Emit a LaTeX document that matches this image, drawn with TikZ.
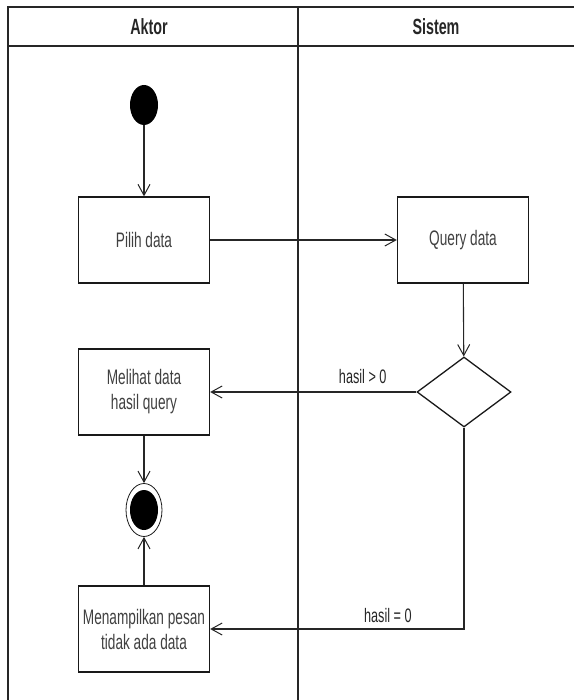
\documentclass[tikz,border=0pt]{standalone}
\usepackage{fontspec}
\setmainfont{Liberation Sans}[FakeStretch=0.65]
\usetikzlibrary{arrows.meta,shapes.geometric}
\begin{document}
\begin{tikzpicture}[x=1pt,y=-1pt,
  lane/.style={draw=black!85, line width=1.6pt},
  line/.style={draw=black!85, line width=1.1pt},
  arr/.style={line, -{Straight Barb[length=11pt,width=12pt,line width=1pt]}},
  act/.style={draw=black!90, line width=1.3pt, minimum width=131pt, minimum height=86pt,
    inner sep=0pt, align=center, font=\fontsize{21}{25}\selectfont, text=black!75},
  hdr/.style={font=\bfseries\fontsize{22}{24}\selectfont, text=black!85, inner sep=0pt},
  lbl/.style={font=\fontsize{19.5}{22}\selectfont, text=black!85, inner sep=0pt},
  dec/.style={diamond, draw=black!90, line width=1.3pt, minimum width=94pt, minimum height=70pt, inner sep=0pt},
  startnode/.style={ellipse, fill=black, minimum width=28pt, minimum height=40pt, inner sep=0pt},
  endring/.style={ellipse, draw=black!90, line width=0.8pt, minimum width=36pt, minimum height=53pt, inner sep=0pt}
]
\useasboundingbox (0,0) rectangle (573,700);
% swimlanes
\draw[lane] (8,700) -- (8,7) -- (576,7);
\draw[lane] (8,46) -- (576,46);
\draw[lane] (298,7) -- (298,700);
\node[hdr] (aktor) at (149,27) {Aktor};
\node[hdr] (sistem) at (436,27) {Sistem};
% nodes
\node[startnode] (start) at (144,105) {};
\node[act] (pilih) at (144,240) {Pilih data};
\node[act] (query) at (463,240) {Query data};
\node[dec] (decision) at (464,392) {};
\node[act] (melihat) at (144,392) {Melihat data\\hasil query};
\node[endring] (end) at (144,510) {};
\node[startnode] (endin) at (144,510) {};
\node[act] (menamp) at (144,629) {Menampilkan pesan\\tidak ada data};
% connectors
\draw[arr] (start) -- (pilih);
\draw[arr] (pilih) -- (query);
\draw[arr] (query) -- (decision);
\draw[arr] (decision.west) -- node[lbl, pos=0.26, above=8pt] {hasil > 0} (melihat.east);
\draw[arr] (decision.south) |- node[lbl, pos=0.65, above=6pt] {hasil = 0} (menamp.east);
\draw[arr] (melihat) -- (end);
\draw[arr] (menamp) -- (end);
\end{tikzpicture}
\end{document}
